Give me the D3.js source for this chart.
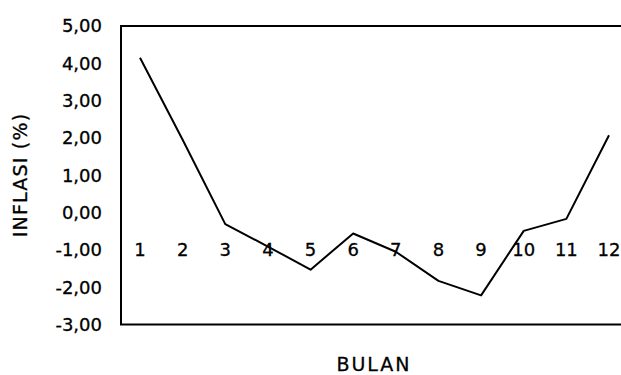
<!DOCTYPE html>
<html>
<head>
<meta charset="utf-8">
<script src="https://cdnjs.cloudflare.com/ajax/libs/d3/7.8.5/d3.min.js"></script>
<style>
    body { margin: 0; background: #fff; }
    text { font-family: "DejaVu Sans", Arial, sans-serif; fill: #000; stroke: #000; stroke-width: 0.3px; }
</style>
</head>
<body>
<div id="chart"></div>
<script>
'use strict';

var months = [1, 2, 3, 4, 5, 6, 7, 8, 9, 10, 11, 12];
var inflation = [4.15, 1.95, -0.31, -0.91, -1.53, -0.56, -1.05, -1.83, -2.22, -0.49, -0.17, 2.07];
var yTicks = [5, 4, 3, 2, 1, 0, -1, -2, -3];

var width = 621,
    height = 375,
    plot_left = 121,
    plot_top = 26,
    plot_bottom = 324.5;

var fmt = function(v) {
    return v.toFixed(2).replace(".", ",");
};

var svg = d3.select("#chart").append("svg")
    .attr("width", width)
    .attr("height", height);

var x = d3.scalePoint()
    .domain(months)
    .range([140, 609]);

var y = d3.scaleLinear()
    .domain([-3, 5])
    .range([plot_bottom, plot_top]);

var plot_right = x(12) + x.step() / 2;

// frame (right side runs off the page)
svg.append("rect")
    .attr("x", plot_left)
    .attr("y", y(5))
    .attr("width", plot_right - plot_left)
    .attr("height", y(-3) - y(5))
    .attr("fill", "none")
    .attr("stroke", "#000")
    .attr("stroke-width", 2);

// y labels
svg.append("g").selectAll("text").data(yTicks)
    .enter().append("text")
    .attr("x", 102)
    .attr("y", function(d) { return y(d); })
    .attr("dy", "0.36em")
    .attr("text-anchor", "end")
    .attr("font-size", 18)
    .text(fmt);

// month labels sit inside the plot at the -1 level
svg.append("g").selectAll("text").data(months)
    .enter().append("text")
    .attr("x", function(d) { return x(d); })
    .attr("y", y(-1))
    .attr("dy", "0.36em")
    .attr("text-anchor", "middle")
    .attr("font-size", 18)
    .text(function(d) { return d; });

var line = d3.line()
    .x(function(d, i) { return x(months[i]); })
    .y(function(d) { return y(d); });

svg.append("path")
    .datum(inflation)
    .attr("d", line)
    .attr("fill", "none")
    .attr("stroke", "#000")
    .attr("stroke-width", 2)
    .attr("stroke-linejoin", "round");

svg.append("text")
    .attr("transform", "translate(27,175) rotate(-90)")
    .attr("text-anchor", "middle")
    .attr("font-size", 19)
    .attr("letter-spacing", 1.2)
    .text("INFLASI (%)");

svg.append("text")
    .attr("x", 374)
    .attr("y", 371)
    .attr("text-anchor", "middle")
    .attr("font-size", 19)
    .attr("letter-spacing", 2)
    .text("BULAN");
</script>
</body>
</html>
